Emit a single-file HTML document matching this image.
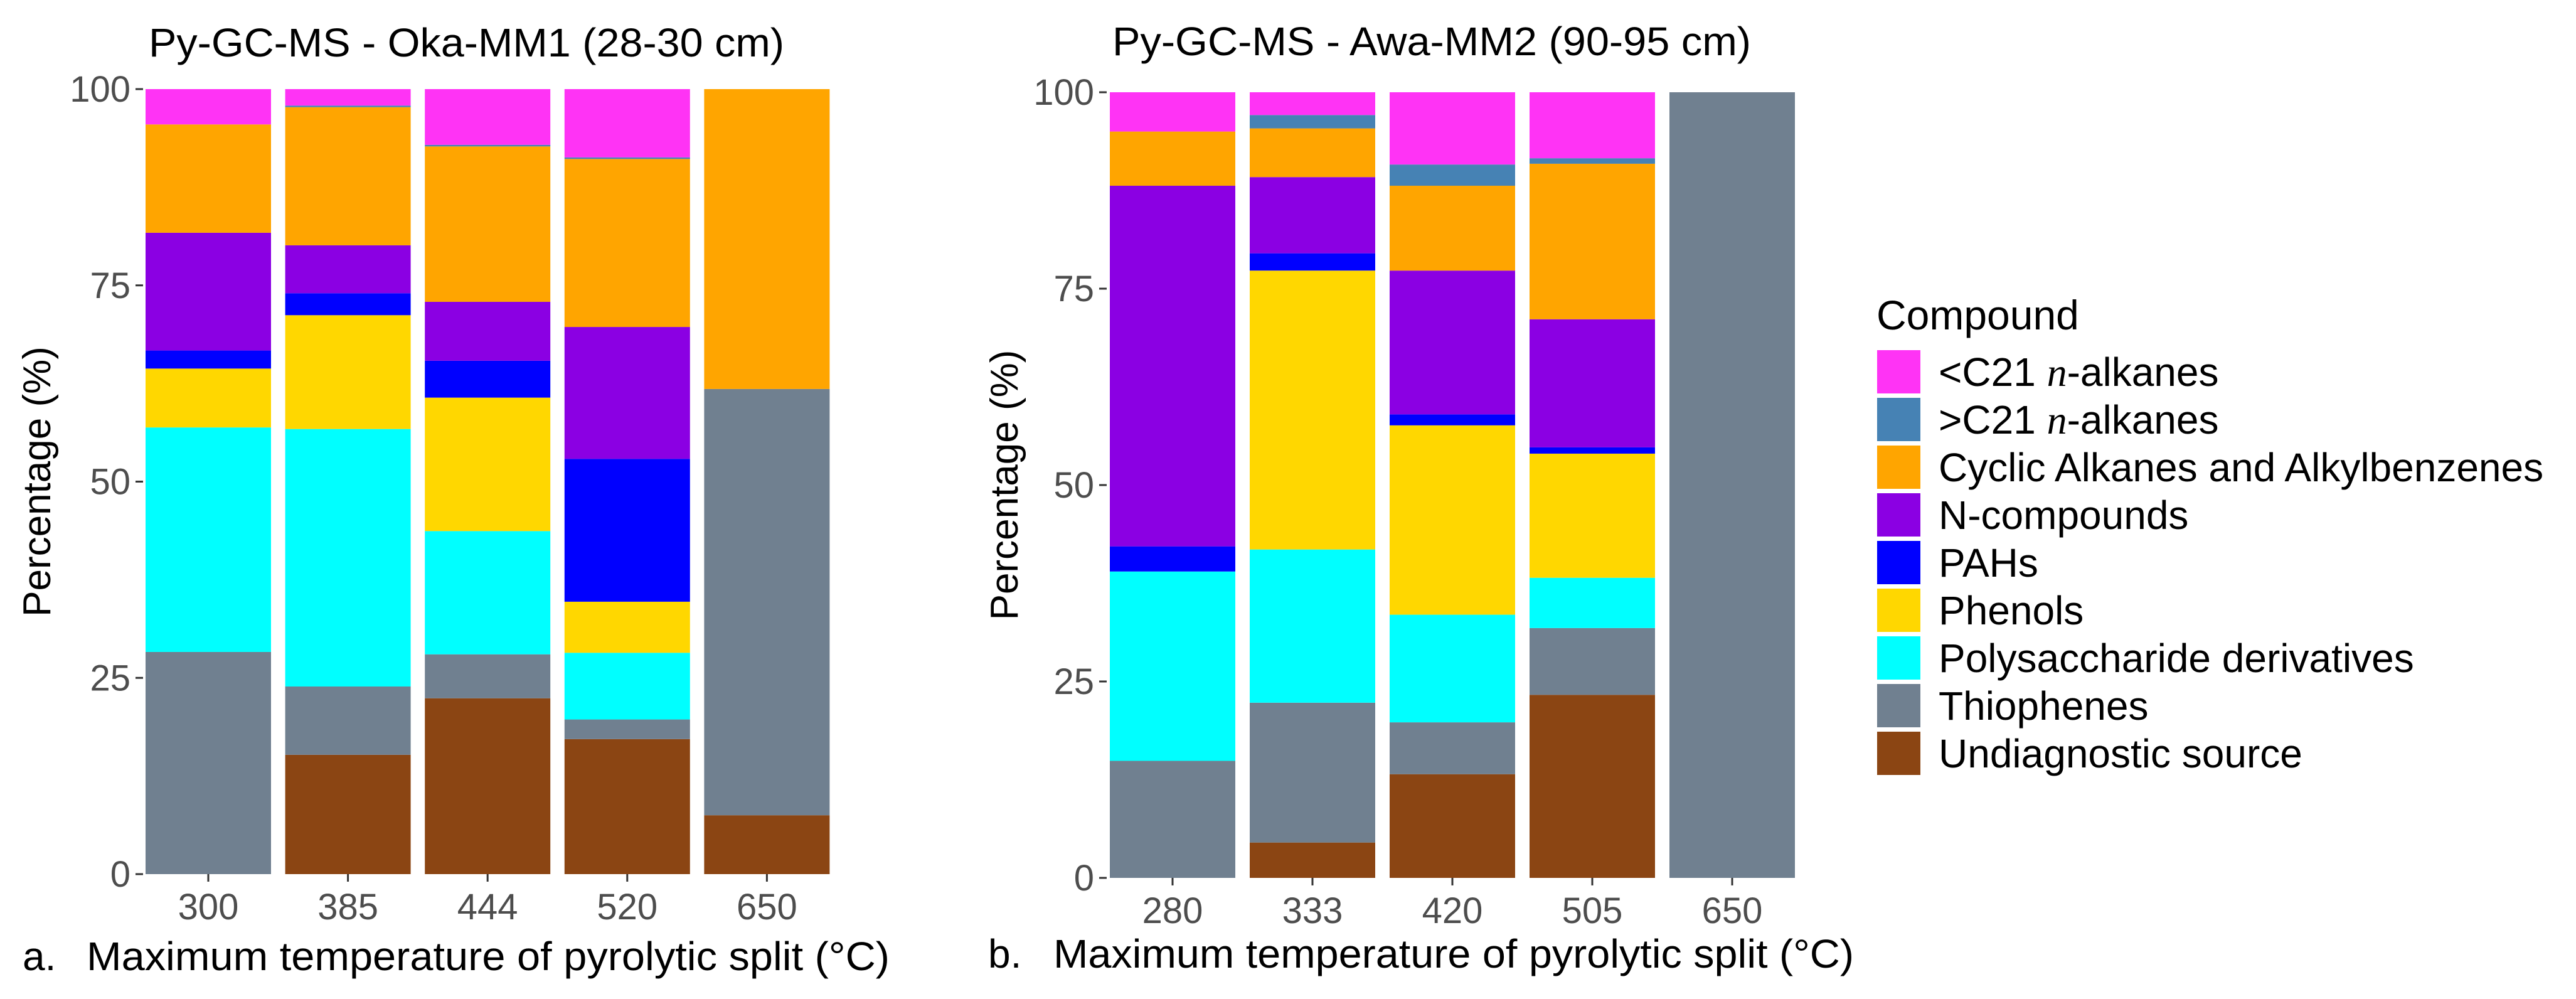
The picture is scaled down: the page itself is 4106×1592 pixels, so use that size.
<!DOCTYPE html>
<html><head><meta charset="utf-8"><style>
html,body{margin:0;padding:0;background:#fff;}
svg{display:block;font-family:"Liberation Sans",Arial,sans-serif;}
</style></head><body>
<svg id="chart" width="4106" height="1592" viewBox="0 0 4106 1592" xmlns="http://www.w3.org/2000/svg">
<rect width="4106" height="1592" fill="#fff"/>
<g id="panelA"></g>
<g id="panelB"></g>
<g id="legend"></g>
</svg>
<script>
const compounds = ["Undiagnostic source","Thiophenes","Polysaccharide derivatives","Phenols","PAHs","N-compounds","Cyclic Alkanes and Alkylbenzenes",">C21 n-alkanes","<C21 n-alkanes"];
const colors = ["#8B4513","#708090","#00FFFF","#FFD700","#0000FF","#8B00E3","#FFA500","#4682B4","#FF33F5"];
const catsA = ["300","385","444","520","650"];
const catsB = ["280","333","420","505","650"];
// values bottom-up in compound order
const valsA = [
 [0,28.3,28.6,7.5,2.3,15.0,13.8,0,4.5],
 [15.2,8.7,32.8,14.5,2.8,6.1,17.6,0.2,2.1],
 [22.4,5.6,15.7,17.0,4.7,7.5,19.8,0.2,7.1],
 [17.2,2.5,8.5,6.5,18.2,16.8,21.4,0.2,8.7],
 [7.5,54.3,0,0,0,0,38.2,0,0]
];
const valsB = [
 [0,14.9,24.1,0,3.2,45.9,6.9,0,5.0],
 [4.5,17.8,19.5,35.5,2.2,9.7,6.2,1.7,2.9],
 [13.2,6.6,13.7,24.1,1.4,18.3,10.8,2.7,9.2],
 [23.3,8.5,6.4,15.8,0.8,16.3,19.8,0.7,8.4],
 [0,100,0,0,0,0,0,0,0]
];
const yTicks = [0,25,50,75,100];
const NS="http://www.w3.org/2000/svg";
function mk(tag,attrs,parent){const e=document.createElementNS(NS,tag);for(const k in attrs)e.setAttribute(k,attrs[k]);parent.appendChild(e);return e;}

function panel(g,cfg,cats,vals){
  const y=v=>cfg.y0-(v/100)*(cfg.y0-cfg.y100);
  const bx=i=>cfg.bx0+i*cfg.pitch;
  vals.forEach((row,i)=>{
    let acc=0;
    row.forEach((v,k)=>{
      if(v<=0)return;
      const r=mk('rect',{x:bx(i),y:y(acc+v),width:cfg.bw,height:y(acc)-y(acc+v),fill:colors[k]},g);
      
      
      acc+=v;
    });
  });
  yTicks.forEach(t=>{
    const l=mk('line',{x1:cfg.ax-12,x2:cfg.ax,y1:y(t),y2:y(t),stroke:'#333','stroke-width':3},g);
    
    
    const tx=mk('text',{x:cfg.ax-20,y:y(t)+20,'text-anchor':'end','font-size':58,fill:'#4d4d4d'},g);
    tx.textContent=t;
    
    
  });
  cats.forEach((c,i)=>{
    const cx=bx(i)+cfg.bw/2;
    const l=mk('line',{x1:cx,x2:cx,y1:cfg.y0,y2:cfg.y0+12,stroke:'#333','stroke-width':3},g);
    
    
    const tx=mk('text',{x:cx,y:cfg.y0+72,'text-anchor':'middle','font-size':58,fill:'#4d4d4d'},g);
    tx.textContent=c;
    
    
  });
  const ti=mk('text',{x:cfg.titleX,y:cfg.titleY,'font-size':64,fill:'#000',textLength:cfg.titleW,lengthAdjust:'spacingAndGlyphs'},g);
  ti.textContent=cfg.title;
  
  
  const yt=mk('text',{x:0,y:0,'font-size':62,fill:'#000','text-anchor':'middle',transform:`translate(${cfg.ytX},${(cfg.y0+cfg.y100)/2}) rotate(-90)`},g);
  yt.textContent='Percentage (%)';
  
  
  const lt=mk('text',{x:cfg.lblX,y:cfg.xtY,'font-size':64,fill:'#000'},g);
  lt.textContent=cfg.lbl;
  
  
  const xt=mk('text',{x:cfg.xtX,y:cfg.xtY,'font-size':64,fill:'#000',textLength:cfg.xtW,lengthAdjust:'spacingAndGlyphs'},g);
  xt.textContent='Maximum temperature of pyrolytic split (°C)';
  
  
}
panel(document.getElementById('panelA'),{y0:1393,y100:142,bx0:232,pitch:222.6,bw:200,ax:228,
  title:'Py-GC-MS - Oka-MM1 (28-30 cm)',titleX:237,titleY:90,titleW:1013,ytX:80,lbl:'a.',lblX:36,xtX:138,xtY:1546,xtW:1280},catsA,valsA);
panel(document.getElementById('panelB'),{y0:1399,y100:147,bx0:1769,pitch:223,bw:200,ax:1764,
  title:'Py-GC-MS - Awa-MM2 (90-95 cm)',titleX:1773,titleY:88,titleW:1018,ytX:1622,lbl:'b.',lblX:1575,xtX:1679,xtY:1542,xtW:1276},catsB,valsB);

const lg=document.getElementById('legend');
const lt=mk('text',{x:2991,y:525,'font-size':66,fill:'#000'},lg);
lt.textContent='Compound';


for(let j=0;j<9;j++){
  const k=8-j;
  const top=558+j*76;
  const r=mk('rect',{x:2992,y:top,width:69,height:69,fill:colors[k]},lg);
  
  
  const t=mk('text',{x:3090,y:top+57,'font-size':64,fill:'#000'},lg);
  const name=compounds[k];
  if(name.indexOf(' n-')>=0){
    const parts=name.split(' n-');
    const a=mk('tspan',{},t);a.textContent=parts[0]+' ';
    const b=mk('tspan',{'font-family':'Liberation Serif, serif','font-style':'italic'},t);b.textContent='n';
    const c=mk('tspan',{},t);c.textContent='-'+parts[1];
  } else t.textContent=name;
  
  
}
</script>
</body></html>
